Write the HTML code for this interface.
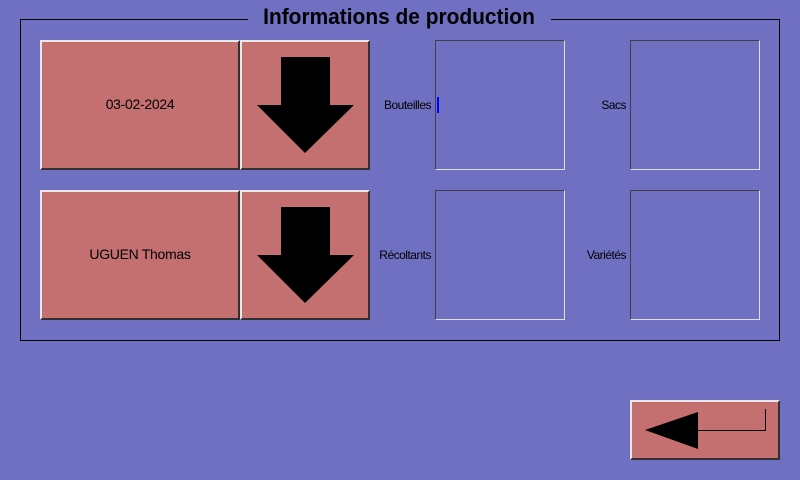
<!DOCTYPE html>
<html><head><meta charset="utf-8"><style>
*{margin:0;padding:0;box-sizing:border-box}
body{width:800px;height:480px;background:#7070c2;position:relative;overflow:hidden;font-family:"Liberation Sans",sans-serif}
.a{position:absolute}
.btn{position:absolute;background:#c47070;border:2px solid;border-color:#e8e8e8 #303030 #303030 #e8e8e8;}
.in{position:absolute;border:1px solid;border-color:#404040 #e0e0e0 #e0e0e0 #404040}
.lbl{position:absolute;font-size:12px;color:#000;letter-spacing:-0.5px;text-align:right;width:80px}
.bt{position:absolute;font-size:14px;width:100%;text-align:center;letter-spacing:-0.3px}
</style></head><body>
<svg class="a" style="left:0;top:0" width="800" height="480">
<path d="M248 19.5 H20.5 V340.5 H779.5 V19.5 H551" fill="none" stroke="#000" stroke-width="1"/>
</svg>
<div class="a" style="left:240px;top:4px;width:318px;text-align:center;font-size:22px;font-weight:bold;transform:scaleX(0.95);">Informations de production</div>

<div class="btn" style="left:40px;top:40px;width:200px;height:130px"><div class="bt" style="top:54px">03-02-2024</div></div>
<div class="btn" style="left:240px;top:40px;width:130px;height:130px"></div>
<div class="btn" style="left:40px;top:190px;width:200px;height:130px"><div class="bt" style="top:54px">UGUEN Thomas</div></div>
<div class="btn" style="left:240px;top:190px;width:130px;height:130px"></div>
<svg class="a" style="left:0;top:0" width="800" height="480">
<polygon points="281,57 330,57 330,105 354,105 305,153 257,105 281,105" fill="#000"/>
<polygon points="281,207 330,207 330,255 354,255 305,303 257,255 281,255" fill="#000"/>
</svg>

<div class="lbl" style="left:351px;top:98px">Bouteilles</div>
<div class="in" style="left:435px;top:40px;width:130px;height:130px"></div>
<div class="a" style="left:437px;top:97px;width:2px;height:16px;background:#0000ff"></div>
<div class="lbl" style="left:546px;top:98px">Sacs</div>
<div class="in" style="left:630px;top:40px;width:130px;height:130px"></div>
<div class="lbl" style="left:351px;top:248px">Récoltants</div>
<div class="in" style="left:435px;top:190px;width:130px;height:130px"></div>
<div class="lbl" style="left:546px;top:248px">Variétés</div>
<div class="in" style="left:630px;top:190px;width:130px;height:130px"></div>

<div class="btn" style="left:630px;top:400px;width:150px;height:60px"></div>
<svg class="a" style="left:0;top:0" width="800" height="480">
<polygon points="645,430 698,412 698,449" fill="#000"/>
<path d="M697 430.5 H765.5 V409" fill="none" stroke="#000" stroke-width="1"/>
</svg>
</body></html>
